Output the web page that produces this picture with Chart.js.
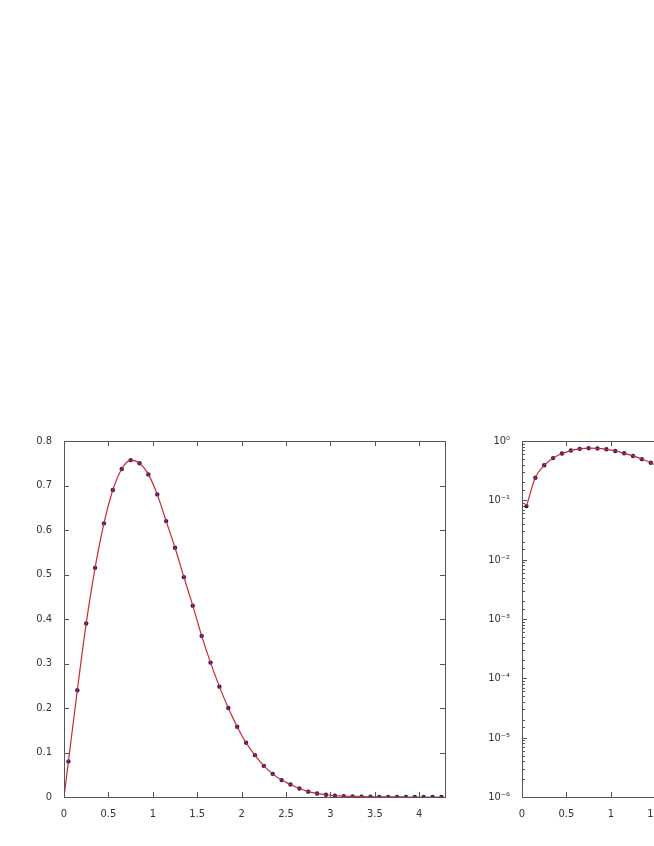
<!DOCTYPE html>
<html>
<head>
<meta charset="utf-8">
<script src="https://cdn.jsdelivr.net/npm/chart.js@4"></script>
<style>
  html, body { margin: 0; padding: 0; background: #fff; overflow: hidden; }
  body { width: 654px; height: 846px; position: relative; }
  canvas { position: absolute; top: 430px; }
  #lin { left: 0; }
  #log { left: 460px; }
</style>
</head>
<body>
<canvas id="lin" width="460" height="400"></canvas>
<canvas id="log" width="460" height="400"></canvas>
<script>
// valores
var xValues = [
  0.05, 0.15, 0.25, 0.35, 0.45, 0.55, 0.65, 0.75, 0.85, 0.95,
  1.05, 1.15, 1.25, 1.35, 1.45, 1.55, 1.65, 1.75, 1.85, 1.95,
  2.05, 2.15, 2.25, 2.35, 2.45, 2.55, 2.65, 2.75, 2.85, 2.95,
  3.05, 3.15, 3.25, 3.35, 3.45, 3.55, 3.65, 3.75, 3.85, 3.95,
  4.05, 4.15, 4.25
];
var yValues = [
  0.08, 0.24, 0.39, 0.515, 0.615, 0.69, 0.737, 0.757, 0.75, 0.725,
  0.68, 0.62, 0.56, 0.494, 0.43, 0.362, 0.302, 0.248, 0.2, 0.158,
  0.122, 0.094, 0.07, 0.052, 0.038, 0.028, 0.019, 0.012, 0.008, 0.005,
  0.003, 0.0019, 0.0012, 0.0007, 0.0004, 0.00025, 0.00014, 0.00008, 0.00004, 0.00002,
  0.00001, 0.000005, 0.0000025
];
var xTickLabels = ['0', '0.5', '1', '1.5', '2', '2.5', '3', '3.5', '4'];
var logTickLabels = ['10\u207B\u2076', '10\u207B\u2075', '10\u207B\u2074', '10\u207B\u00B3', '10\u207B\u00B2', '10\u207B\u00B9', '10\u2070'];

var font = { family: "'Liberation Sans Narrow', 'DejaVu Sans Condensed', 'Arial Narrow', sans-serif", size: 11 };
var txt = '#333';

function pts(xs, ys) {
  return xs.map(function (x, i) { return { x: x, y: ys[i] }; });
}

// caixa e marcas para dentro, estilo matlab
var frame = {
  id: 'frame',
  afterDraw: function (chart) {
    var ctx = chart.ctx, a = chart.chartArea, sx = chart.scales.x, sy = chart.scales.y;
    ctx.save();
    ctx.strokeStyle = '#555';
    ctx.lineWidth = 1;
    ctx.strokeRect(Math.round(a.left) + 0.5, Math.round(a.top) + 0.5, Math.round(a.width), Math.round(a.height));
    ctx.beginPath();
    sx.ticks.forEach(function (t) {
      var p = Math.round(sx.getPixelForValue(t.value)) + 0.5;
      ctx.moveTo(p, a.bottom); ctx.lineTo(p, a.bottom - 5);
      ctx.moveTo(p, a.top); ctx.lineTo(p, a.top + 5);
    });
    sy.ticks.forEach(function (t) {
      var p = Math.round(sy.getPixelForValue(t.value)) + 0.5;
      var len = (t.label === '' ? 3 : 5);
      ctx.moveTo(a.left, p); ctx.lineTo(a.left + len, p);
      ctx.moveTo(a.right, p); ctx.lineTo(a.right - len, p);
    });
    ctx.stroke();
    ctx.restore();
  }
};

var xScale = {
  type: 'linear',
  min: 0,
  max: 4.29,
  afterBuildTicks: function (s) {
    s.ticks = xTickLabels.map(function (l) { return { value: parseFloat(l) }; });
  },
  afterFit: function (s) { s.height = 33; },
  grid: { display: false },
  border: { display: false },
  ticks: {
    font: font, color: txt, padding: 3, maxRotation: 0, autoSkip: false,
    callback: function (v) { return xTickLabels[Math.round(v * 2)]; }
  }
};

new Chart(document.getElementById('lin'), {
  type: 'scatter',
  data: {
    datasets: [{
      data: pts([0].concat(xValues), [0].concat(yValues)),
      showLine: true,
      borderColor: '#cc2a2a',
      borderWidth: 1.2,
      pointRadius: 0,
      cubicInterpolationMode: 'monotone'
    }, {
      data: pts(xValues, yValues),
      pointRadius: 2.2,
      pointBackgroundColor: '#2d1b6e',
      pointBorderColor: '#2d1b6e',
      pointBorderWidth: 0
    }]
  },
  options: {
    responsive: false,
    animation: false,
    layout: { padding: { top: 11, right: 15 } },
    plugins: { legend: { display: false }, tooltip: { enabled: false } },
    scales: {
      x: xScale,
      y: {
        min: 0,
        max: 0.8,
        afterFit: function (s) { s.width = 64; },
        grid: { display: false },
        border: { display: false },
        ticks: {
          stepSize: 0.1, font: font, color: txt, padding: 4,
          callback: function (v) { return String(+v.toFixed(1)); }
        }
      }
    }
  },
  plugins: [frame]
});

new Chart(document.getElementById('log'), {
  type: 'scatter',
  data: {
    datasets: [{
      data: pts(xValues, yValues),
      showLine: true,
      borderColor: '#cc2a2a',
      borderWidth: 1.2,
      pointRadius: 0,
      cubicInterpolationMode: 'monotone'
    }, {
      data: pts(xValues, yValues),
      pointRadius: 2.2,
      pointBackgroundColor: '#2d1b6e',
      pointBorderColor: '#2d1b6e',
      pointBorderWidth: 0
    }]
  },
  options: {
    responsive: false,
    animation: false,
    layout: { padding: { top: 11, right: 17 } },
    plugins: { legend: { display: false }, tooltip: { enabled: false } },
    scales: {
      x: Object.assign({}, xScale),
      y: {
        type: 'logarithmic',
        min: 1e-6,
        max: 1,
        afterFit: function (s) { s.width = 62; },
        grid: { display: false },
        border: { display: false },
        ticks: {
          font: font, color: txt, padding: 4, autoSkip: false,
          callback: function (v) {
            var e = Math.log10(v);
            if (Math.abs(e - Math.round(e)) > 1e-9) return '';
            return logTickLabels[Math.round(e) + 6];
          }
        }
      }
    }
  },
  plugins: [frame]
});
</script>
</body>
</html>
